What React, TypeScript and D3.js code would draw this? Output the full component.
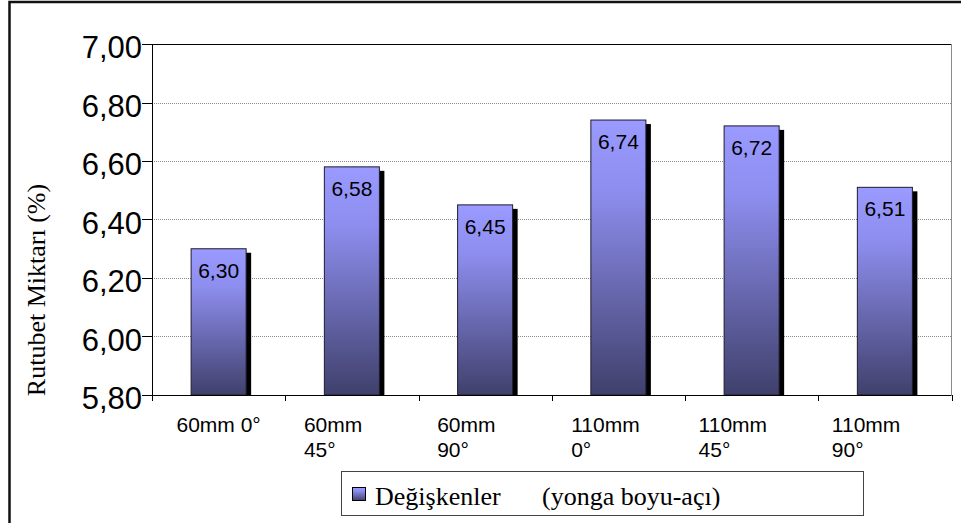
import React, { useEffect, useRef } from "react";
import * as d3 from "d3";

const categories = ["60mm 0°", "60mm 45°", "60mm 90°", "110mm 0°", "110mm 45°", "110mm 90°"];
const values = [6.3, 6.58, 6.45, 6.74, 6.72, 6.51];
const yTicks = [5.8, 6.0, 6.2, 6.4, 6.6, 6.8, 7.0];
const yDomain = [5.8, 7.0];
const yTitle = "Rutubet Miktarı (%)";
const legendName = "Değişkenler";
const legendNote = "(yonga boyu-açı)";

const W = 961;
const H = 523;
const plot = { left: 152, right: 951.5, top: 44, bottom: 395 };
const SANS = "'Liberation Sans', Arial, sans-serif";
const SERIF = "'Liberation Serif', 'Times New Roman', serif";

export default function App() {
  const ref = useRef<SVGSVGElement>(null);

  useEffect(() => {
    const svg = d3.select(ref.current);
    svg.selectAll("*").remove();

    const fmt = (v: number) => d3.format(".2f")(v).replace(".", ",");
    const x = d3
      .scaleBand<string>()
      .domain(categories)
      .range([plot.left, plot.right])
      .paddingInner(0.587)
      .paddingOuter(0.2935);
    const y = d3.scaleLinear().domain(yDomain).range([plot.bottom, plot.top]);
    const step = x.step();

    const defs = svg.append("defs");
    const grad = defs
      .append("linearGradient")
      .attr("id", "barGrad")
      .attr("x1", 0)
      .attr("y1", 0)
      .attr("x2", 0)
      .attr("y2", 1);
    grad.append("stop").attr("offset", "0%").attr("stop-color", "#9a9aff");
    grad.append("stop").attr("offset", "25%").attr("stop-color", "#8e8ef0");
    grad.append("stop").attr("offset", "100%").attr("stop-color", "#40406c");

    svg.append("rect").attr("width", W).attr("height", H).attr("fill", "#fff");

    // outer frame
    svg
      .append("rect")
      .attr("x", 9.5)
      .attr("y", 2)
      .attr("width", 1000)
      .attr("height", 600)
      .attr("fill", "none")
      .attr("stroke", "#111")
      .attr("stroke-width", 2.5);

    // gridlines
    svg
      .append("g")
      .selectAll("line")
      .data(yTicks.filter((t) => t > yDomain[0] && t < yDomain[1]))
      .join("line")
      .attr("x1", plot.left)
      .attr("x2", plot.right)
      .attr("y1", (d) => Math.round(y(d)) + 0.5)
      .attr("y2", (d) => Math.round(y(d)) + 0.5)
      .attr("stroke", "#8a8a8a")
      .attr("stroke-dasharray", "1,1");

    // plot frame: top and right
    svg
      .append("line")
      .attr("x1", plot.left)
      .attr("x2", plot.right)
      .attr("y1", plot.top + 0.5)
      .attr("y2", plot.top + 0.5)
      .attr("stroke", "#000");
    svg
      .append("line")
      .attr("x1", plot.right)
      .attr("x2", plot.right)
      .attr("y1", plot.top)
      .attr("y2", plot.bottom)
      .attr("stroke", "#8a8a8a");

    // y ticks and labels
    const yg = svg.append("g");
    yg.selectAll("line")
      .data(yTicks)
      .join("line")
      .attr("x1", plot.left - 10)
      .attr("x2", plot.left)
      .attr("y1", (d) => Math.round(y(d)) + 0.5)
      .attr("y2", (d) => Math.round(y(d)) + 0.5)
      .attr("stroke", "#000");
    yg.selectAll("text")
      .data(yTicks)
      .join("text")
      .attr("x", plot.left - 10)
      .attr("y", (d) => y(d) + 14)
      .attr("text-anchor", "end")
      .attr("font-family", SANS)
      .attr("font-size", 31)
      .attr("fill", "#000")
      .text((d) => fmt(d));

    // bars with drop shadow
    const bw = x.bandwidth();
    const bars = svg.append("g");
    bars
      .selectAll("rect.shadow")
      .data(values)
      .join("rect")
      .attr("class", "shadow")
      .attr("x", (_, i) => (x(categories[i]) as number) + 5)
      .attr("y", (d) => y(d) + 4)
      .attr("width", bw)
      .attr("height", (d) => plot.bottom - y(d) - 4)
      .attr("fill", "#000");
    bars
      .selectAll("rect.bar")
      .data(values)
      .join("rect")
      .attr("class", "bar")
      .attr("x", (_, i) => x(categories[i]) as number)
      .attr("y", (d) => y(d))
      .attr("width", bw)
      .attr("height", (d) => plot.bottom - y(d))
      .attr("fill", "url(#barGrad)")
      .attr("stroke", "#1c1c30")
      .attr("stroke-width", 1);
    bars
      .selectAll("text")
      .data(values)
      .join("text")
      .attr("x", (_, i) => (x(categories[i]) as number) + bw / 2)
      .attr("y", (d) => y(d) + 29)
      .attr("text-anchor", "middle")
      .attr("font-family", SANS)
      .attr("font-size", 21)
      .attr("fill", "#000")
      .text((d) => fmt(d));

    // x axis
    svg
      .append("line")
      .attr("x1", plot.left)
      .attr("x2", plot.right)
      .attr("y1", plot.bottom + 0.5)
      .attr("y2", plot.bottom + 0.5)
      .attr("stroke", "#000");
    svg
      .append("line")
      .attr("x1", plot.left + 0.5)
      .attr("x2", plot.left + 0.5)
      .attr("y1", plot.top)
      .attr("y2", plot.bottom)
      .attr("stroke", "#000");
    svg
      .append("g")
      .selectAll("line")
      .data(d3.range(categories.length + 1))
      .join("line")
      .attr("x1", (i) => Math.round(plot.left + i * step) + 0.5)
      .attr("x2", (i) => Math.round(plot.left + i * step) + 0.5)
      .attr("y1", plot.bottom)
      .attr("y2", plot.bottom + 6)
      .attr("stroke", "#000");

    // category labels, wrapped when too wide for one line
    const xg = svg.append("g");
    categories.forEach((c) => {
      const cx = (x(c) as number) + bw / 2;
      const probe = xg
        .append("text")
        .attr("font-family", SANS)
        .attr("font-size", 21)
        .text(c);
      const full = (probe.node() as SVGTextElement).getComputedTextLength();
      probe.remove();
      const cut = c.lastIndexOf(" ");
      const lines = full > 90 && cut > 0 ? [c.slice(0, cut), c.slice(cut + 1)] : [c];
      const t = xg
        .append("text")
        .attr("font-family", SANS)
        .attr("font-size", 21)
        .attr("fill", "#000");
      lines.forEach((ln, k) => {
        t.append("tspan")
          .attr("x", cx - full / 2)
          .attr("y", 431.5 + k * 25)
          .text(ln);
      });
    });

    // y title
    svg
      .append("text")
      .attr("transform", "translate(45,290) rotate(-90)")
      .attr("text-anchor", "middle")
      .attr("font-family", SERIF)
      .attr("font-size", 26)
      .attr("fill", "#000")
      .text(yTitle);

    // legend
    const lg = svg.append("g");
    lg.append("rect")
      .attr("x", 341.5)
      .attr("y", 471.5)
      .attr("width", 522)
      .attr("height", 44)
      .attr("fill", "#fff")
      .attr("stroke", "#444");
    lg.append("rect")
      .attr("x", 352.5)
      .attr("y", 487.5)
      .attr("width", 13)
      .attr("height", 13)
      .attr("fill", "url(#barGrad)")
      .attr("stroke", "#000");
    lg.append("text")
      .attr("x", 375)
      .attr("y", 505)
      .attr("font-family", SERIF)
      .attr("font-size", 26)
      .attr("fill", "#000")
      .text(legendName);
    lg.append("text")
      .attr("x", 542)
      .attr("y", 505)
      .attr("font-family", SERIF)
      .attr("font-size", 26)
      .attr("fill", "#000")
      .text(legendNote);
  }, []);

  return (
    <svg
      ref={ref}
      width={W}
      height={H}
      style={{ position: "absolute", left: 0, top: 0, display: "block" }}
    />
  );
}
